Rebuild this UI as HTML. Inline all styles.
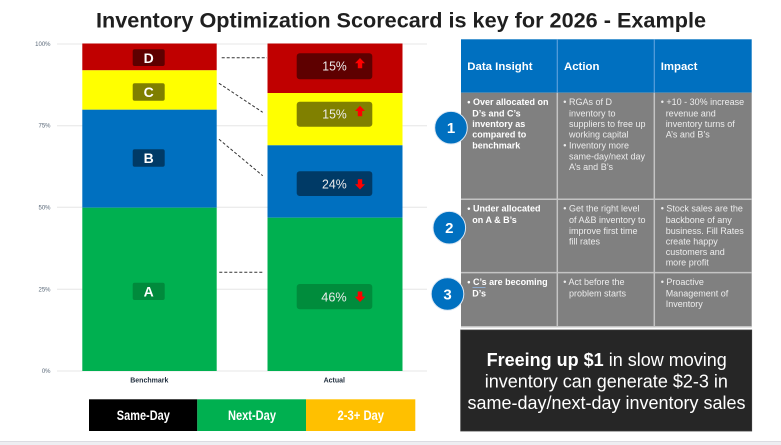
<!DOCTYPE html>
<html><head><meta charset="utf-8"><style>
html,body{margin:0;padding:0;background:#fff;}
svg{display:block;}
</style></head><body>
<svg width="781" height="445" viewBox="0 0 781 445" xmlns="http://www.w3.org/2000/svg" font-family="'Liberation Sans', Arial, sans-serif">
<rect x="0" y="0" width="781" height="445" fill="#ffffff"/>
<rect x="0" y="441" width="781" height="4" fill="#eeeef2"/>
<line x1="0" y1="441.5" x2="781" y2="441.5" stroke="#dcdce2" stroke-width="1"/>

<text x="96" y="27.7" font-size="21" font-weight="bold" fill="#1f1f1f" textLength="610" lengthAdjust="spacingAndGlyphs">Inventory Optimization Scorecard is key for 2026 - Example</text>

<g stroke="#ececec" stroke-width="1.3">
<line x1="57" y1="44" x2="427" y2="44"/>
<line x1="57" y1="125.7" x2="427" y2="125.7"/>
<line x1="57" y1="207.3" x2="427" y2="207.3"/>
<line x1="57" y1="289.3" x2="427" y2="289.3"/>
<line x1="57" y1="371" x2="427" y2="371"/>
</g>
<g font-size="6" fill="#5a6878" text-anchor="end">
<text x="50.5" y="46">100%</text>
<text x="50.5" y="127.7">75%</text>
<text x="50.5" y="209.3">50%</text>
<text x="50.5" y="291.3">25%</text>
<text x="50.5" y="373">0%</text>
</g>

<rect x="82.3" y="43.5" width="134.4" height="26.8" fill="#c00000"/>
<rect x="82.3" y="70.3" width="134.4" height="39.4" fill="#ffff00"/>
<rect x="82.3" y="109.7" width="134.4" height="98" fill="#0070c0"/>
<rect x="82.3" y="207.7" width="134.4" height="163.3" fill="#00b050"/>
<rect x="132.7" y="49.3" width="32" height="16.7" rx="2" fill="#5e0000"/>
<rect x="132.7" y="83.3" width="32" height="17.4" rx="2" fill="#7f7f00"/>
<rect x="132.7" y="149.3" width="32" height="17.4" rx="2" fill="#003a66"/>
<rect x="132.7" y="282.7" width="32" height="17.3" rx="2" fill="#008a3c"/>
<g font-size="14" font-weight="bold" fill="#ffffff" text-anchor="middle">
<text x="148.7" y="63">D</text>
<text x="148.7" y="97">C</text>
<text x="148.7" y="163">B</text>
<text x="148.7" y="296.5">A</text>
</g>

<rect x="267.5" y="43.5" width="135" height="49.5" fill="#c00000"/>
<rect x="267.5" y="93" width="135" height="52.3" fill="#ffff00"/>
<rect x="267.5" y="145.3" width="135" height="72.4" fill="#0070c0"/>
<rect x="267.5" y="217.7" width="135" height="153.3" fill="#00b050"/>
<rect x="296.7" y="53.3" width="75.6" height="26" rx="3" fill="#5e0000"/>
<rect x="296.7" y="101.7" width="75.6" height="25" rx="3" fill="#808000"/>
<rect x="296.7" y="171.3" width="75.6" height="24.7" rx="3" fill="#003a66"/>
<rect x="296.7" y="284" width="75.6" height="25.3" rx="3" fill="#008c3c"/>
<g font-size="12.5" fill="#ececec">
<text x="322.3" y="70.7" textLength="24.4" lengthAdjust="spacingAndGlyphs">15%</text>
<text x="322.3" y="118.5" textLength="24.4" lengthAdjust="spacingAndGlyphs">15%</text>
<text x="322" y="188.5" textLength="24.7" lengthAdjust="spacingAndGlyphs">24%</text>
<text x="321.3" y="301.7" textLength="25.4" lengthAdjust="spacingAndGlyphs">46%</text>
</g>
<g fill="#ff0000">
<path d="M360,58 L365,63.2 L362.2,63.2 L362.2,68.3 L357.8,68.3 L357.8,63.2 L355,63.2 Z"/>
<path d="M360,105.8 L365,111 L362.2,111 L362.2,116.2 L357.8,116.2 L357.8,111 L355,111 Z"/>
<path d="M360,189.5 L365,184.3 L362.2,184.3 L362.2,179.2 L357.8,179.2 L357.8,184.3 L355,184.3 Z"/>
<path d="M360,302 L365.3,296.6 L362.3,296.6 L362.3,291.5 L357.7,291.5 L357.7,296.6 L354.7,296.6 Z"/>
</g>

<g stroke="#333333" stroke-width="1" stroke-dasharray="3,2" fill="none">
<line x1="221.7" y1="57.7" x2="267" y2="57.7"/>
<line x1="219" y1="83.3" x2="262.7" y2="112.3"/>
<line x1="219" y1="139.3" x2="262.7" y2="175.7"/>
<line x1="219.3" y1="272.3" x2="263.7" y2="272.3"/>
</g>

<g font-size="7" font-weight="bold" fill="#1f2d3d" text-anchor="middle">
<text x="149.3" y="382.5">Benchmark</text>
<text x="334.3" y="382.5">Actual</text>
</g>

<rect x="89" y="399.3" width="108.3" height="31.7" fill="#000000"/>
<rect x="197.3" y="399.3" width="108.7" height="31.7" fill="#00b050"/>
<rect x="306" y="399.3" width="109.3" height="31.7" fill="#ffc000"/>
<g font-family="'Liberation Sans Narrow','Liberation Sans',sans-serif" font-size="14" font-weight="bold" fill="#ffffff" text-anchor="middle">
<text x="143.3" y="420" textLength="53" lengthAdjust="spacingAndGlyphs">Same-Day</text>
<text x="252" y="420" textLength="48" lengthAdjust="spacingAndGlyphs">Next-Day</text>
<text x="360.8" y="420" textLength="46.5" lengthAdjust="spacingAndGlyphs">2-3+ Day</text>
</g>

<rect x="461" y="39.3" width="290.7" height="53.4" fill="#0070c0"/>
<rect x="461" y="92.7" width="290.7" height="234" fill="#808080"/>
<g stroke="#5a9fdc" stroke-width="1.2">
<line x1="557.3" y1="39.3" x2="557.3" y2="92.7"/>
<line x1="654.3" y1="39.3" x2="654.3" y2="92.7"/>
</g>
<g stroke="#c4c4c4" stroke-width="1.5">
<line x1="557.3" y1="92.7" x2="557.3" y2="326.7"/>
<line x1="654.3" y1="92.7" x2="654.3" y2="326.7"/>
<line x1="461" y1="199.2" x2="751.7" y2="199.2"/>
<line x1="461" y1="272.6" x2="751.7" y2="272.6"/>
<line x1="461" y1="326.7" x2="751.7" y2="326.7"/>
</g>
<g font-size="11.4" font-weight="bold" fill="#ffffff">
<text x="467.3" y="70">Data Insight</text>
<text x="564" y="70">Action</text>
<text x="660.7" y="70">Impact</text>
</g>
<g font-size="9" font-weight="bold" fill="#ffffff">
<text x="467.3" y="105">• Over allocated on</text>
<text x="472.3" y="116.3">D’s and C’s</text>
<text x="472.3" y="127">inventory as</text>
<text x="472.3" y="137.7">compared to</text>
<text x="472.3" y="148.3">benchmark</text>
<text x="467.3" y="211.6">• Under allocated</text>
<text x="472.3" y="223">on A &amp; B’s</text>
<text x="467.3" y="285">• C’s are becoming</text>
<text x="472.3" y="296.3">D’s</text>
</g>
<line x1="472.5" y1="287.5" x2="485.5" y2="287.5" stroke="#8fb4e0" stroke-width="0.8"/>
<g font-size="9" fill="#ededed">
<text x="563.3" y="105">• RGAs of D</text>
<text x="569" y="116.3">inventory to</text>
<text x="569" y="127">suppliers to free up</text>
<text x="569" y="137.7">working capital</text>
<text x="563.3" y="148.3">• Inventory more</text>
<text x="569" y="159.3">same-day/next day</text>
<text x="569" y="170">A’s and B’s</text>
<text x="660.7" y="105">• +10 - 30% increase</text>
<text x="665.7" y="116.3">revenue and</text>
<text x="665.7" y="127">inventory turns of</text>
<text x="665.7" y="137.7">A’s and B’s</text>

<text x="563.3" y="211.6">• Get the right level</text>
<text x="569" y="223">of A&amp;B inventory to</text>
<text x="569" y="234">improve first time</text>
<text x="569" y="244.3">fill rates</text>
<text x="660.7" y="211.6">• Stock sales are the</text>
<text x="665.7" y="223">backbone of any</text>
<text x="665.7" y="234">business. Fill Rates</text>
<text x="665.7" y="244.3">create happy</text>
<text x="665.7" y="255">customers and</text>
<text x="665.7" y="265.6">more profit</text>

<text x="563.3" y="285">• Act before the</text>
<text x="569" y="296.3">problem starts</text>
<text x="660.7" y="285">• Proactive</text>
<text x="665.7" y="296.3">Management of</text>
<text x="665.7" y="307">Inventory</text>
</g>

<g stroke="#dce8f4" stroke-width="1">
<circle cx="451" cy="127.7" r="16.3" fill="#0070c0"/>
<circle cx="449.3" cy="227.7" r="16.3" fill="#0070c0"/>
<circle cx="447.5" cy="294" r="16.3" fill="#0070c0"/>
</g>
<g font-size="15" font-weight="bold" fill="#ffffff" text-anchor="middle">
<text x="451" y="133">1</text>
<text x="449.3" y="233">2</text>
<text x="447.5" y="299.3">3</text>
</g>

<rect x="460.7" y="330" width="291" height="101" fill="#262626"/>
<rect x="460.7" y="330" width="291" height="101" fill="none" stroke="#3a3a3a" stroke-width="0.8"/>
<g font-size="18" fill="#ffffff" text-anchor="middle">
<text x="606.7" y="366"><tspan font-weight="bold">Freeing up $1</tspan> in slow moving</text>
<text x="606.3" y="387.5">inventory can generate $2-3 in</text>
<text x="606.5" y="409" textLength="278" lengthAdjust="spacingAndGlyphs">same-day/next-day inventory sales</text>
</g>
</svg>
</body></html>
